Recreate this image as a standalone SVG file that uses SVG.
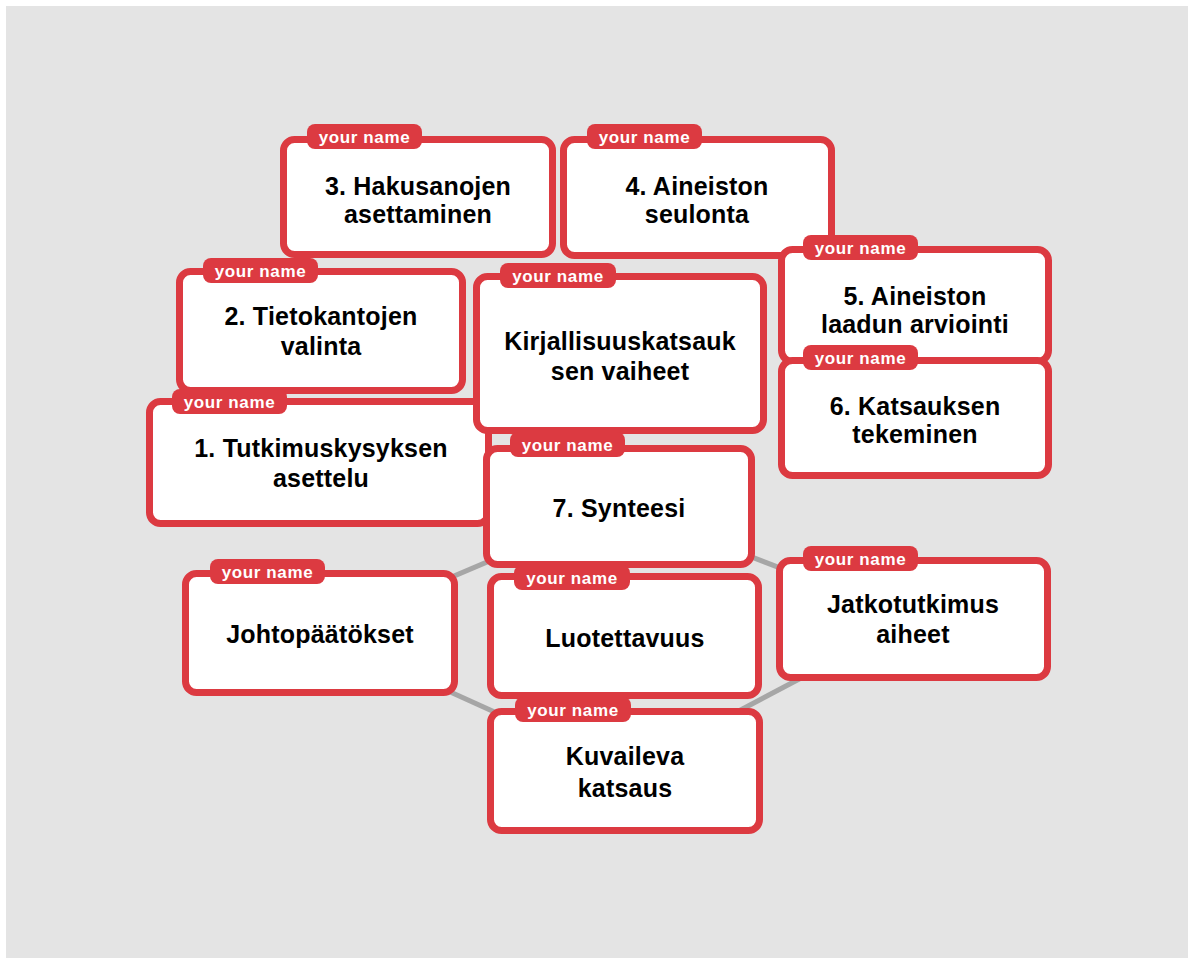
<svg xmlns="http://www.w3.org/2000/svg" width="1188" height="958" viewBox="0 0 1188 958">
<style>
.box{fill:#fff;stroke:#dc3a41;stroke-width:7}
.tag{fill:#dc3a41}
.tt{fill:#fff;font-family:"Liberation Sans",Arial,sans-serif;font-weight:bold;font-size:17px;letter-spacing:0.6px;text-anchor:middle}
.lb{fill:#000;font-family:"Liberation Sans",Arial,sans-serif;font-weight:bold;font-size:25px;letter-spacing:0.2px;text-anchor:middle}
.cn{stroke:#a6a6a6;stroke-width:5;fill:none}
</style>
<rect x="0" y="0" width="1188" height="958" fill="#ffffff"/>
<rect x="6" y="6" width="1182" height="952" fill="#e4e4e4"/>
<g id="connectors">
<line class="cn" x1="320" y1="633" x2="619" y2="506"/>
<line class="cn" x1="619" y1="506" x2="913" y2="619"/>
<line class="cn" x1="320" y1="633" x2="625" y2="771"/>
<line class="cn" x1="913" y1="619" x2="625" y2="771"/>
</g>
<g id="n3">
<rect class="box" x="283.5" y="139.5" width="269" height="115" rx="11"/>
<rect class="tag" x="307" y="124" width="115" height="25" rx="8"/>
<text class="tt" x="364.5" y="143">your name</text>
<text class="lb" x="418" y="195">3. Hakusanojen</text>
<text class="lb" x="418" y="223">asettaminen</text>
</g>
<g id="n4">
<rect class="box" x="563.5" y="139.5" width="268" height="116" rx="11"/>
<rect class="tag" x="587" y="124" width="115" height="25" rx="8"/>
<text class="tt" x="644.5" y="143">your name</text>
<text class="lb" x="697" y="195">4. Aineiston</text>
<text class="lb" x="697" y="223">seulonta</text>
</g>
<g id="n5">
<rect class="box" x="781.5" y="249.5" width="267" height="112" rx="11"/>
<rect class="tag" x="803" y="235" width="115" height="25" rx="8"/>
<text class="tt" x="860.5" y="254">your name</text>
<text class="lb" x="915" y="305">5. Aineiston</text>
<text class="lb" x="915" y="333">laadun arviointi</text>
</g>
<g id="n6">
<rect class="box" x="781.5" y="360.5" width="267" height="115" rx="11"/>
<rect class="tag" x="803" y="345" width="115" height="25" rx="8"/>
<text class="tt" x="860.5" y="364">your name</text>
<text class="lb" x="915" y="415">6. Katsauksen</text>
<text class="lb" x="915" y="443">tekeminen</text>
</g>
<g id="n2">
<rect class="box" x="179.5" y="271.5" width="283" height="119" rx="11"/>
<rect class="tag" x="203" y="258" width="115" height="25" rx="8"/>
<text class="tt" x="260.5" y="277">your name</text>
<text class="lb" x="321" y="325">2. Tietokantojen</text>
<text class="lb" x="321" y="355">valinta</text>
</g>
<g id="n1">
<rect class="box" x="149.5" y="401.5" width="339" height="122" rx="11"/>
<rect class="tag" x="172" y="389" width="115" height="25" rx="8"/>
<text class="tt" x="229.5" y="408">your name</text>
<text class="lb" x="321" y="457">1. Tutkimuskysyksen</text>
<text class="lb" x="321" y="487">asettelu</text>
</g>
<g id="center">
<rect class="box" x="476.5" y="276.5" width="287" height="154" rx="11"/>
<rect class="tag" x="500" y="263" width="116" height="25" rx="8"/>
<text class="tt" x="558" y="282">your name</text>
<text class="lb" x="620" y="350">Kirjallisuuskatsauk</text>
<text class="lb" x="620" y="380">sen vaiheet</text>
</g>
<g id="n7">
<rect class="box" x="486.5" y="448.5" width="265" height="116" rx="11"/>
<rect class="tag" x="510" y="432" width="115" height="25" rx="8"/>
<text class="tt" x="567.5" y="451">your name</text>
<text class="lb" x="619" y="517">7. Synteesi</text>
</g>
<g id="johto">
<rect class="box" x="185.5" y="573.5" width="269" height="119" rx="11"/>
<rect class="tag" x="210" y="559" width="115" height="25" rx="8"/>
<text class="tt" x="267.5" y="578">your name</text>
<text class="lb" x="320" y="643">Johtopäätökset</text>
</g>
<g id="jatko">
<rect class="box" x="779.5" y="560.5" width="268" height="117" rx="11"/>
<rect class="tag" x="803" y="546" width="115" height="25" rx="8"/>
<text class="tt" x="860.5" y="565">your name</text>
<text class="lb" x="913" y="613">Jatkotutkimus</text>
<text class="lb" x="913" y="643">aiheet</text>
</g>
<g id="luo">
<rect class="box" x="490.5" y="576.5" width="268" height="119" rx="11"/>
<rect class="tag" x="514" y="565" width="116" height="25" rx="8"/>
<text class="tt" x="572" y="584">your name</text>
<text class="lb" x="625" y="647">Luotettavuus</text>
</g>
<g id="kuvaileva">
<rect class="box" x="490.5" y="711.5" width="269" height="119" rx="11"/>
<rect class="tag" x="515" y="697" width="116" height="25" rx="8"/>
<text class="tt" x="573" y="716">your name</text>
<text class="lb" x="625" y="765">Kuvaileva</text>
<text class="lb" x="625" y="797">katsaus</text>
</g>
</svg>
